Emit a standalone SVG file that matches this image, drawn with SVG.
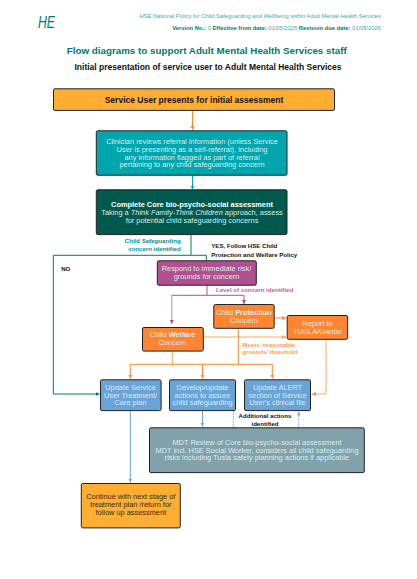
<svg xmlns="http://www.w3.org/2000/svg" width="417" height="579" viewBox="0 0 417 579">
<style>
text{font-family:"Liberation Sans",Arial,sans-serif;text-anchor:middle}
.box{stroke:#222;stroke-width:1;rx:1.5}
.t{font-size:7.4px;fill:#d8eeee}
.lb{font-size:6.1px;font-weight:bold}
.c{fill:none;stroke-width:1}
.hd{font-size:5.8px;text-anchor:end}
.st{text-anchor:start}
.en{text-anchor:end}
</style>
<defs>
<marker id="aO" markerWidth="5" markerHeight="5" refX="4" refY="2" orient="auto"><path d="M0 0L4 2L0 4z" fill="#ff8533"/></marker>
<marker id="aL" markerWidth="5" markerHeight="5" refX="4" refY="2" orient="auto"><path d="M0 0L4 2L0 4z" fill="#ffa866"/></marker>
<marker id="aT" markerWidth="5" markerHeight="5" refX="4" refY="2" orient="auto"><path d="M0 0L4 2L0 4z" fill="#00a5ad"/></marker>
<marker id="aG" markerWidth="5" markerHeight="5" refX="4" refY="2" orient="auto"><path d="M0 0L4 2L0 4z" fill="#007a6c"/></marker>
<marker id="aP" markerWidth="5" markerHeight="5" refX="4" refY="2" orient="auto"><path d="M0 0L4 2L0 4z" fill="#b0508f"/></marker>
<marker id="aB" markerWidth="5" markerHeight="5" refX="4" refY="2" orient="auto"><path d="M0 0L4 2L0 4z" fill="#6aa3d8"/></marker>
<marker id="aS" markerWidth="5" markerHeight="5" refX="4" refY="2" orient="auto"><path d="M0 0L4 2L0 4z" fill="#8fa9b3"/></marker>
</defs>
<rect width="417" height="579" fill="#fff"/>
<g id="header">
<text class="st" x="38" y="27.5" font-size="16" font-style="italic" textLength="17" lengthAdjust="spacingAndGlyphs" fill="#007a6c">HE</text>
<text class="hd" x="381" y="18" fill="#45aaa6">HSE National Policy for Child Safeguarding and Wellbeing within Adult Mental Health Services</text>
<text class="hd" x="381" y="30" fill="#007a6c"><tspan font-weight="bold">Version No.: </tspan><tspan fill="#45aaa6">0 </tspan><tspan font-weight="bold">Effective from date: </tspan><tspan fill="#45aaa6">01/05/2025 </tspan><tspan font-weight="bold">Revision due date: </tspan><tspan fill="#45aaa6">01/05/2026</tspan></text>
<text x="206.7" y="54" font-size="9.8" font-weight="bold" fill="#007a6c">Flow diagrams to support Adult Mental Health Services staff</text>
<text x="208" y="70" font-size="8.5" font-weight="bold" fill="#111">Initial presentation of service user to Adult Mental Health Services</text>
</g>
<g id="connectors">
<path class="c" d="M192.5 110.5V130" stroke="#ff8533" marker-end="url(#aO)"/>
<path class="c" d="M192.5 175V189.5" stroke="#00a5ad" marker-end="url(#aT)"/>
<path class="c" d="M191 235V255.3M53.3 255.3H206.3V260.5" stroke="#007a6c"/>
<path class="c" d="M53.3 255.3V394H99.5" stroke="#007a6c" marker-end="url(#aG)"/>
<path class="c" d="M207 285V295.3" stroke="#b0508f"/>
<path class="c" d="M171.8 295.3V324" stroke="#c77fb0" marker-end="url(#aP)"/>
<path class="c" d="M171.8 295.3H244V304" stroke="#b0508f" marker-end="url(#aP)"/>
<path class="c" d="M274.5 318H286" stroke="#ff8533" marker-end="url(#aO)"/>
<path class="c" d="M203.5 337H286" stroke="#ffa866" marker-end="url(#aL)"/>
<path class="c" d="M238.3 328.5V364.3" stroke="#ff8533"/>
<path class="c" d="M172.3 351.5V364.3" stroke="#ffa866"/>
<path class="c" d="M130.3 364.3H272.3" stroke="#ff8533"/>
<path class="c" d="M130.3 364.3V378.5" stroke="#ff8533" marker-end="url(#aO)"/>
<path class="c" d="M202.5 364.3V378.5" stroke="#ff8533" marker-end="url(#aO)"/>
<path class="c" d="M272.3 364.3V378.5" stroke="#ff8533" marker-end="url(#aO)"/>
<path class="c" d="M326 339.5V394H312" stroke="#ffa866" stroke-width="1.2" marker-end="url(#aO)"/>
<path class="c" d="M130.3 411V482.5" stroke="#6aa3d8" marker-end="url(#aB)"/>
<path class="c" d="M202.5 411V426.5" stroke="#6aa3d8" marker-end="url(#aB)"/>
<path class="c" d="M233.3 411V427.5" stroke="#8fa9b3" stroke-dasharray="1.5 1"/>
<path class="c" d="M298.7 427.5V411.5" stroke="#8fa9b3" stroke-dasharray="1.5 1" marker-end="url(#aS)"/>
</g>
<g id="labels">
<g class="lb">
<text class="en" x="180.7" y="243" fill="#00908f">Child Safeguarding</text>
<text class="en" x="180.7" y="251" fill="#00908f">concern identified</text>
<text class="st" x="211.3" y="248.3" fill="#111">YES, Follow HSE Child</text>
<text class="st" x="211.3" y="256.7" fill="#111">Protection and Welfare Policy</text>
<text x="65.7" y="271" fill="#111">NO</text>
<text class="st" x="216" y="291.7" fill="#c0609f">Level of concern identified</text>
<text class="st" x="242.3" y="346.7" fill="#ff9a55">Meets ‘reasonable</text>
<text class="st" x="242.3" y="353.9" fill="#ff9a55">grounds’ threshold</text>
<text x="265" y="417.7" fill="#111">Additional actions</text>
<text x="265" y="425.7" fill="#111">identified</text>
</g>
</g>
<g id="n1"><rect class="box" x="53.5" y="88.8" width="281" height="21.6" fill="#ffad33"/><text x="194" y="103" font-size="8.5" font-weight="bold" fill="#111">Service User presents for initial assessment</text></g>
<g id="n2"><rect class="box" x="96.3" y="130.8" width="190.7" height="44.4" fill="#00a5ad"/><text class="t" x="192" y="144">Clinician reviews referral information (unless Service</text><text class="t" x="192" y="151.8">User is presenting as a self-referral), including</text><text class="t" x="192" y="159.6">any information flagged as part of referral</text><text class="t" x="192" y="167.4">pertaining to any child safeguarding concern</text></g>
<g id="n3"><rect class="box" x="96.3" y="189.8" width="190.7" height="44.8" fill="#00594c"/><text class="t" x="192" y="207" font-weight="bold" style="fill:#fff">Complete Core bio-psycho-social assessment</text><text class="t" x="192" y="214.8">Taking a <tspan font-style="italic">Think Family-Think Children</tspan> approach, assess</text><text class="t" x="192" y="222.6">for potential child safeguarding concerns</text></g>
<g id="n4"><rect class="box" x="157.3" y="260.8" width="99" height="24.4" fill="#b0508f"/><text class="t" x="206.5" y="271">Respond to immediate risk/</text><text class="t" x="206.5" y="279">grounds for concern</text></g>
<g id="n5"><rect class="box" x="142.5" y="327.5" width="60.8" height="23.6" fill="#ff8533"/><text class="t" x="172.5" y="337">Child <tspan font-weight="bold">Welfare</tspan></text><text class="t" x="172.5" y="345">Concern</text></g>
<g id="n6"><rect class="box" x="213.8" y="304.5" width="60.4" height="23.8" fill="#ff8533"/><text class="t" x="244" y="315">Child <tspan font-weight="bold">Protection</tspan></text><text class="t" x="244" y="322.6">Concern</text></g>
<g id="n7"><rect class="box" x="287.2" y="315.5" width="60.4" height="23.8" fill="#ff8533"/><text class="t" x="317.5" y="326">Report to</text><text class="t" x="317.5" y="333.6">TUSLA/Gardaí</text></g>
<g id="n8"><rect class="box" x="100.5" y="379.8" width="60.6" height="30.8" fill="#6aa3d8"/><text class="t" x="130.5" y="390">Update Service</text><text class="t" x="130.5" y="397.5">User Treatment/</text><text class="t" x="130.5" y="405">Care plan</text></g>
<g id="n9"><rect class="box" x="169.5" y="379.8" width="66" height="30.8" fill="#6aa3d8"/><text class="t" x="202.5" y="390">Develop/update</text><text class="t" x="202.5" y="397.5">actions to assure</text><text class="t" x="202.5" y="405">child safeguarding</text></g>
<g id="n10"><rect class="box" x="244.5" y="379.8" width="66" height="30.8" fill="#6aa3d8"/><text class="t" x="277.5" y="390">Update ALERT</text><text class="t" x="277.5" y="397.5">section of Service</text><text class="t" x="277.5" y="405">User's clinical file</text></g>
<g id="n11"><rect class="box" x="149.5" y="427.8" width="214.8" height="44.8" fill="#81a2ac"/><text class="t" x="257" y="445">MDT Review of Core bio-psycho-social assessment</text><text class="t" x="257" y="452.5">MDT incl. HSE Social Worker, considers all child safeguarding</text><text class="t" x="257" y="460">risks including Tusla safety planning actions if applicable</text></g>
<g id="n12"><rect class="box" x="81.3" y="483.5" width="99" height="44.4" fill="#ffad33"/><text class="t" x="130.8" y="499" style="fill:#2f2f12">Continue with next stage of</text><text class="t" x="130.8" y="507" style="fill:#2f2f12">treatment plan /return for</text><text class="t" x="130.8" y="515" style="fill:#2f2f12">follow up assessment</text></g>
</svg>
